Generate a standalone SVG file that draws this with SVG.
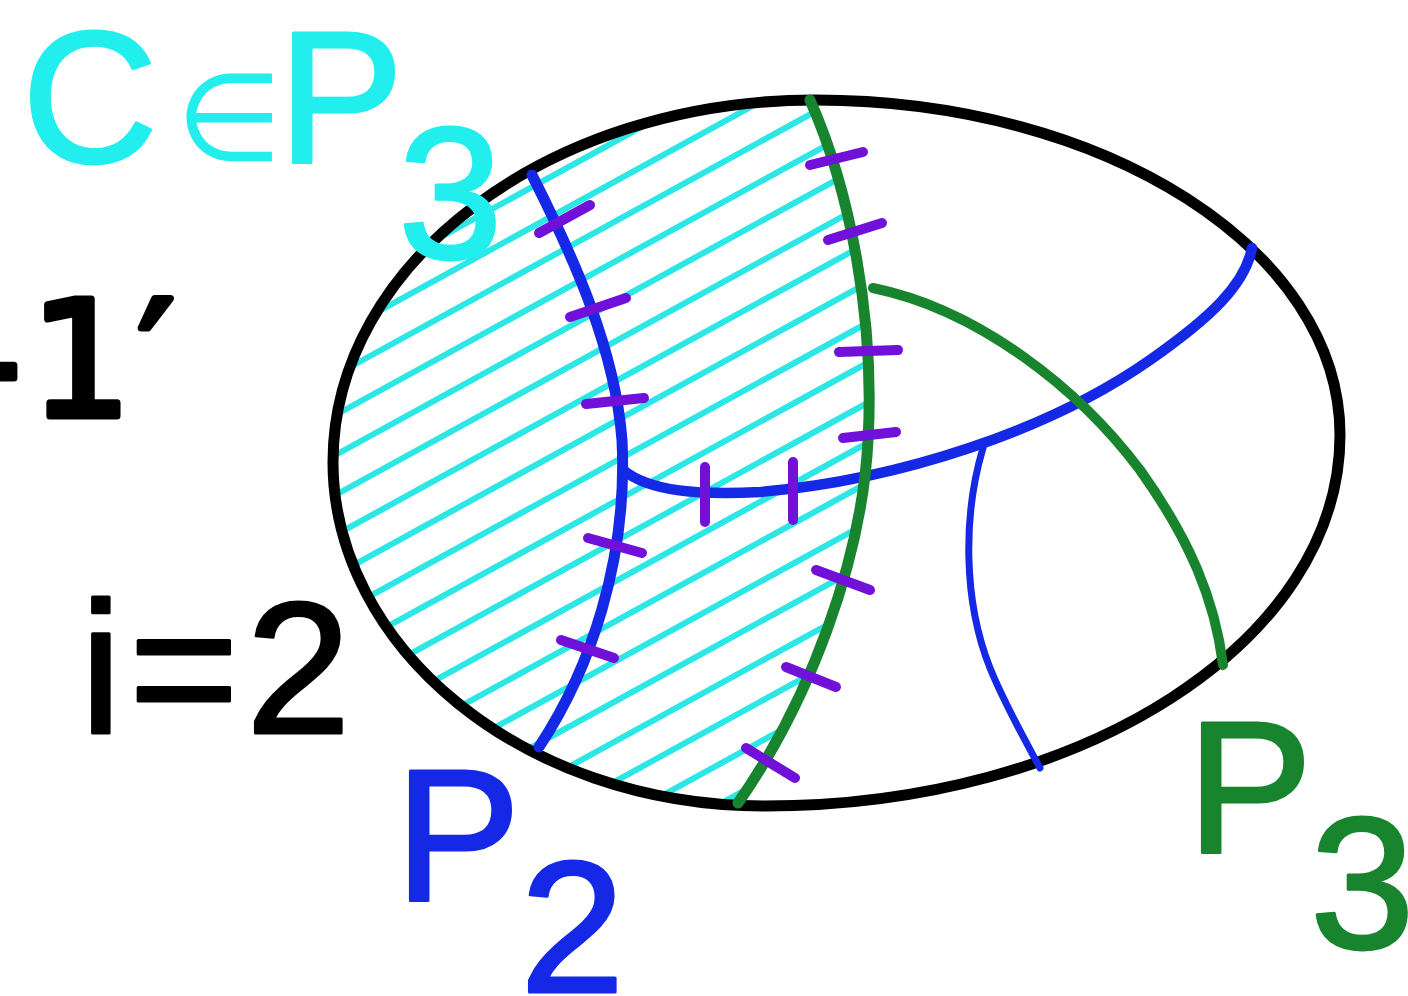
<svg xmlns="http://www.w3.org/2000/svg" width="1408" height="996" viewBox="0 0 1408 996">
<style>
.lbl{font-family:"Liberation Sans",Arial,sans-serif;font-size:188px;stroke-width:3;stroke-linejoin:round}
.cy{fill:#22eeee;stroke:#22eeee}
.bl{fill:#1428e6;stroke:#1428e6}
.gr{fill:#18852e;stroke:#18852e}
.bk{fill:#000;stroke:#000}
.hatch line{stroke:#2de6e6;stroke-width:6;stroke-linecap:round}
.tick{stroke:#7010d8;stroke-width:10;stroke-linecap:round}
.curve{fill:none;stroke-linecap:round}
</style>
<defs>
<clipPath id="ellClip"><path d="M333,462 C333,263 549,100 815,100 C1105,100 1340,250 1340,435 C1340,641 1083,806 765,806 C520,806 333,645 333,462 Z"/></clipPath>
<clipPath id="leftGreen"><path d="M0,0 L800,0 L810,100 C850,190 875,320 868,440 C862,560 810,700 738,803 L700,996 L0,996 Z"/></clipPath>
</defs>
<rect width="1408" height="996" fill="#fff"/>
<g id="hatch" class="hatch" clip-path="url(#ellClip)">
<g clip-path="url(#leftGreen)">
<line x1="330" y1="258" x2="900" y2="-55"/>
<line x1="330" y1="298" x2="900" y2="-15"/>
<line x1="330" y1="338" x2="900" y2="25"/>
<line x1="330" y1="378" x2="900" y2="65"/>
<line x1="330" y1="418" x2="900" y2="105"/>
<line x1="330" y1="458" x2="900" y2="145"/>
<line x1="330" y1="498" x2="900" y2="185"/>
<line x1="330" y1="538" x2="900" y2="225"/>
<line x1="330" y1="578" x2="900" y2="265"/>
<line x1="330" y1="618" x2="900" y2="305"/>
<line x1="330" y1="658" x2="900" y2="345"/>
<line x1="330" y1="698" x2="900" y2="385"/>
<line x1="330" y1="738" x2="900" y2="425"/>
<line x1="330" y1="778" x2="900" y2="465"/>
<line x1="330" y1="818" x2="900" y2="505"/>
<line x1="330" y1="858" x2="900" y2="545"/>
<line x1="330" y1="898" x2="900" y2="585"/>
<line x1="330" y1="938" x2="900" y2="625"/>
<line x1="330" y1="978" x2="900" y2="665"/>
<line x1="330" y1="1018" x2="900" y2="705"/>
<line x1="330" y1="1058" x2="900" y2="745"/>
</g>
</g>
<g id="ellipse">
<path d="M333,462 C333,263 549,100 815,100 C1105,100 1340,250 1340,435 C1340,641 1083,806 765,806 C520,806 333,645 333,462 Z" fill="none" stroke="#000" stroke-width="11"/>
</g>
<g id="connectors">
<path id="p2-arc" class="curve" d="M532,175 C575,260 615,350 622,440 C628,560 590,670 539,747" stroke="#1428e6" stroke-width="11"/>
<path id="p2-branch" class="curve" d="M623,470 C650,492 700,495 760,492 C900,480 1050,430 1150,360 C1210,318 1245,285 1252,248" stroke="#1428e6" stroke-width="10.5"/>
<path id="p2-small" class="curve" d="M983,448 C963,515 963,600 990,668 C1005,705 1025,740 1040,768" stroke="#1428e6" stroke-width="7"/>
<path id="p3-arc" class="curve" d="M810,100 C850,190 875,320 868,440 C862,560 810,700 738,803" stroke="#18852e" stroke-width="11"/>
<path id="p3-branch" class="curve" d="M873,288 C980,310 1080,390 1140,470 C1190,540 1215,600 1223,665" stroke="#18852e" stroke-width="10"/>
</g>
<g id="ticks">
<line class="tick" x1="539" y1="233" x2="590" y2="205"/>
<line class="tick" x1="570" y1="317" x2="626" y2="298"/>
<line class="tick" x1="586" y1="404" x2="644" y2="398"/>
<line class="tick" x1="588" y1="538" x2="642" y2="553"/>
<line class="tick" x1="561" y1="640" x2="614" y2="658"/>
<line class="tick" x1="705" y1="467" x2="705" y2="522"/>
<line class="tick" x1="793" y1="462" x2="793" y2="520"/>
<line class="tick" x1="810" y1="165" x2="863" y2="152"/>
<line class="tick" x1="828" y1="240" x2="882" y2="223"/>
<line class="tick" x1="839" y1="352" x2="898" y2="350"/>
<line class="tick" x1="843" y1="438" x2="896" y2="432"/>
<line class="tick" x1="816" y1="570" x2="870" y2="590"/>
<line class="tick" x1="786" y1="667" x2="836" y2="687"/>
<line class="tick" x1="746" y1="748" x2="795" y2="778"/>
</g>
<g id="label-c">
<text class="lbl cy"><tspan x="22" y="162">C</tspan><tspan x="176" y="160" font-family="'DejaVu Sans',sans-serif" font-size="122" stroke-width="0">∈</tspan><tspan x="278" y="162">P</tspan><tspan x="398" y="258">3</tspan></text>
</g>
<g id="label-m1">
<text font-family="'DejaVu Sans',sans-serif" font-size="160" fill="#000" stroke="#000" stroke-width="7" stroke-linejoin="round"><tspan x="-36" y="416">-</tspan><tspan x="30" y="416">1</tspan><tspan x="138" y="416">′</tspan></text>
</g>
<g id="label-i2">
<text class="lbl bk" stroke-width="4"><tspan x="80" y="733">i</tspan><tspan x="129" y="733">=</tspan><tspan x="246" y="733">2</tspan></text>
</g>
<g id="label-p2">
<text class="lbl bl"><tspan x="395" y="900">P</tspan><tspan x="520" y="992">2</tspan></text>
</g>
<g id="label-p3">
<text class="lbl gr"><tspan x="1187" y="852">P</tspan><tspan x="1310" y="948">3</tspan></text>
</g>
</svg>
